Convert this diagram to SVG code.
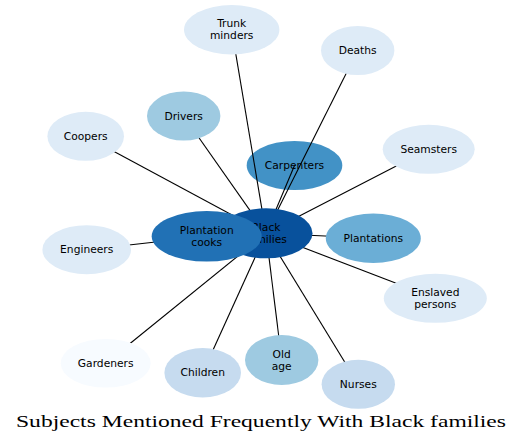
<svg xmlns="http://www.w3.org/2000/svg" width="529" height="445" viewBox="0 0 529 445">
<style>
text{font-family:"DejaVu Sans","Liberation Sans",sans-serif;font-size:10.7px;fill:#000;text-anchor:middle;dominant-baseline:central}
.e line{stroke:#000;stroke-width:1.1}
.t{font-family:"Liberation Serif","DejaVu Serif",serif;font-size:16.5px;dominant-baseline:auto}
</style>
<rect width="529" height="445" fill="#fff"/>
<g id="carpenters"><ellipse cx="294.5" cy="165.5" rx="47.8" ry="24.5" fill="#4292c6"/><text x="294.5" y="165.5">Carpenters</text></g>
<g id="connectors" class="e">
<line x1="266" y1="233.3" x2="231.7" y2="29.7"/>
<line x1="266" y1="233.3" x2="357.7" y2="50.5"/>
<line x1="266" y1="233.3" x2="183.7" y2="116"/>
<line x1="266" y1="233.3" x2="85.7" y2="136.3"/>
<line x1="266" y1="233.3" x2="294.5" y2="165.5"/>
<line x1="266" y1="233.3" x2="428.7" y2="149.3"/>
<line x1="266" y1="233.3" x2="206.7" y2="236.3"/>
<line x1="266" y1="233.3" x2="373.3" y2="238.3"/>
<line x1="206.7" y1="236.3" x2="86.7" y2="249.7"/>
<line x1="266" y1="233.3" x2="435.3" y2="298.3"/>
<line x1="266" y1="233.3" x2="105.7" y2="363.3"/>
<line x1="266" y1="233.3" x2="202.7" y2="372.7"/>
<line x1="266" y1="233.3" x2="281.7" y2="360"/>
<line x1="266" y1="233.3" x2="358.3" y2="384.3"/>
</g>
<g id="trunk-minders"><ellipse cx="231.7" cy="29.7" rx="47.7" ry="24.7" fill="#deebf7"/><text x="231.7" y="23.7">Trunk</text><text x="231.7" y="35.7">minders</text></g>
<g id="deaths"><ellipse cx="357.7" cy="50.5" rx="36.7" ry="24.5" fill="#deebf7"/><text x="357.7" y="50.5">Deaths</text></g>
<g id="drivers"><ellipse cx="183.7" cy="116" rx="36.7" ry="24.5" fill="#9ecae1"/><text x="183.7" y="116">Drivers</text></g>
<g id="coopers"><ellipse cx="85.7" cy="136.3" rx="38.3" ry="24.5" fill="#deebf7"/><text x="85.7" y="136.3">Coopers</text></g>
<g id="seamsters"><ellipse cx="428.7" cy="149.3" rx="46" ry="24.5" fill="#deebf7"/><text x="428.7" y="149.3">Seamsters</text></g>
<g id="black-families"><ellipse cx="266" cy="233.3" rx="46.5" ry="25" fill="#08519c"/><text x="266" y="227.3">Black</text><text x="266" y="239.3">families</text></g>
<g id="plantation-cooks"><ellipse cx="206.7" cy="236.3" rx="55" ry="25.3" fill="#2171b5"/><text x="206.7" y="230.3">Plantation</text><text x="206.7" y="242.3">cooks</text></g>
<g id="plantations"><ellipse cx="373.3" cy="238.3" rx="47.5" ry="24.7" fill="#6baed6"/><text x="373.3" y="238.3">Plantations</text></g>
<g id="engineers"><ellipse cx="86.7" cy="249.7" rx="44.3" ry="24.5" fill="#deebf7"/><text x="86.7" y="249.7">Engineers</text></g>
<g id="enslaved-persons"><ellipse cx="435.3" cy="298.3" rx="51.5" ry="24.5" fill="#deebf7"/><text x="435.3" y="292.3">Enslaved</text><text x="435.3" y="304.3">persons</text></g>
<g id="gardeners"><ellipse cx="105.7" cy="363.3" rx="45" ry="24.3" fill="#f7fbff"/><text x="105.7" y="363.3">Gardeners</text></g>
<g id="children"><ellipse cx="202.7" cy="372.7" rx="38.3" ry="24.7" fill="#c6dbef"/><text x="202.7" y="372.7">Children</text></g>
<g id="old-age"><ellipse cx="281.7" cy="360" rx="36.7" ry="25" fill="#9ecae1"/><text x="281.7" y="354">Old</text><text x="281.7" y="366">age</text></g>
<g id="nurses"><ellipse cx="358.3" cy="384.3" rx="36.7" ry="24.5" fill="#c6dbef"/><text x="358.3" y="384.3">Nurses</text></g>
<text class="t" x="261" y="427" textLength="490" lengthAdjust="spacingAndGlyphs">Subjects Mentioned Frequently With Black families</text>
</svg>
